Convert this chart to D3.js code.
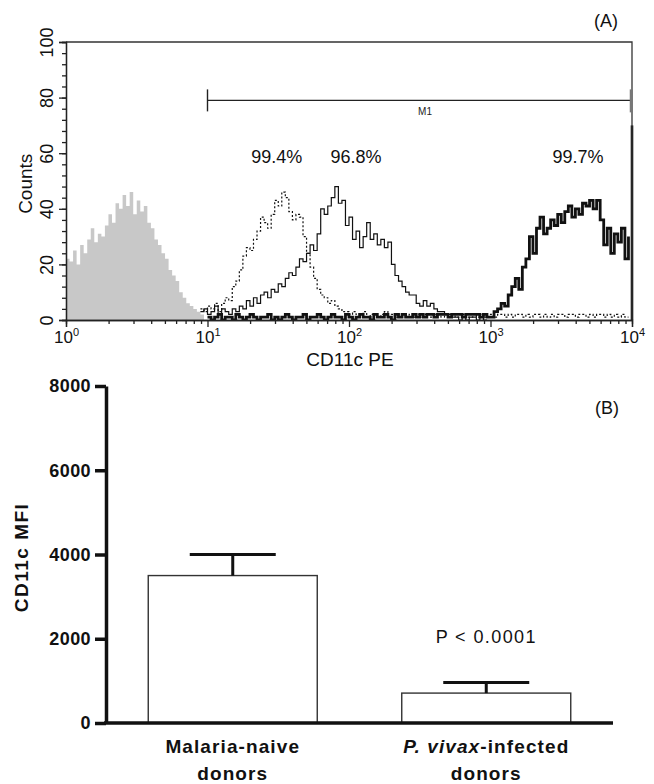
<!DOCTYPE html>
<html>
<head>
<meta charset="utf-8">
<script src="https://cdn.jsdelivr.net/npm/d3@7"></script>
<style>
  html, body { margin: 0; padding: 0; background: #fff; }
  svg { display: block; font-family: "Liberation Sans", Arial, sans-serif; }
</style>
</head>
<body>
<div id="chart"></div>
<script>
// ---------- Panel A: CD11c PE histograms ----------
// counts per channel, channels are LOG_STEP wide on the log10 axis
const LOG_STEP = 0.025;

// isotype control (grey fill), starts at 10^0
const isoStart = 0.0;
const isoCounts = [22, 21, 25, 20, 27, 24, 29, 33, 28, 31, 30, 34, 38, 35, 42, 40, 45, 41, 46, 38,
  43, 39, 41, 35, 33, 29, 27, 24, 22, 18, 16, 14, 10, 8, 6, 5, 4, 3, 2, 0];

// dotted histogram (99.4%)
const dotStart = 0.95;
const dotCounts = [4, 3, 5, 4, 6, 3, 6, 8, 7, 12, 14, 18, 23, 26, 25, 29, 32, 37, 35, 33,
  38, 43, 41, 46, 44, 39, 36, 38, 37, 30, 24, 19, 15, 11, 9, 8, 6, 7, 5, 4,
  3, 3, 2,
  3, 2, 2, 3, 1, 2, 2, 1, 2, 3, 1, 2, 1, 2, 2, 1, 2, 1, 2,
  1, 2, 1, 1, 2, 1, 2, 1, 1, 2, 1, 1, 2, 1, 1, 2, 1, 2, 1, 1,
  2, 1, 2, 2, 1, 2, 1, 2, 2, 1, 2, 1, 2, 2, 1, 2, 1, 2, 1, 2,
  2, 1, 2, 2, 1, 2, 2, 1, 2, 1, 2, 2, 1, 2, 1, 2, 1, 2, 1, 1];

// thin solid histogram (96.8%)
const thinStart = 0.95;
const thinCounts = [3, 4, 2, 3, 5, 2, 4, 3, 2, 4, 3, 5, 4, 7, 5, 8, 6, 9, 10, 8,
  11, 10, 13, 12, 15, 17, 16, 19, 22, 21, 24, 27, 25, 31, 40, 38, 41, 44, 48, 42,
  43, 34, 37, 29, 32, 26, 30, 35, 29, 31, 27, 29, 26, 28, 20, 16, 14, 12, 10, 9,
  9, 6, 5, 7, 5, 6, 4, 3, 3, 2, 2, 1, 1,
  0, 1, 0, 1, 1, 0, 1, 0, 0];

// thick solid histogram (99.7%)
const thickStart = 1.0;
const thickCounts = [1, 0, 1, 2, 0, 1, 1, 0, 2, 1, 0, 1, 2, 1, 0, 1, 1, 2, 0, 1,
  0, 1, 2, 1, 0, 1, 1, 2, 0, 1, 1, 2, 1, 0, 1, 2, 1, 1, 0, 2,
  1, 0, 1, 2, 1, 1, 0, 2, 1, 1, 2, 1, 0, 2, 1, 2, 1, 1, 2, 1,
  2, 1, 2, 2, 1, 2, 2, 2, 1, 2, 2, 2, 1, 2, 2, 2, 2, 1, 2, 1,
  1, 3, 4, 6, 5, 9, 12, 15, 11, 19, 22, 30, 24, 33, 37, 31, 33, 36, 34, 38,
  35, 39, 41, 37, 40, 38, 42, 41, 43, 40, 43, 36, 27, 33, 24, 31, 28, 33, 22, 30];
const thickPileup = 70;   // last channel at 10^4

const histTicks = [0, 20, 40, 60, 80, 100];
const decades = [1, 10, 100, 1000, 10000];
const minorMult = [2, 3, 4, 5, 6, 7, 8, 9];

const m1Range = [10, 10000];
const m1Level = 79;

const pctLabels = [
  { text: "99.4%", at: 30.9 },
  { text: "96.8%", at: 112 },
  { text: "99.7%", at: 4150 }
];

// ---------- Panel B: CD11c MFI bars ----------
const groups = ["Malaria-naive donors", "P. vivax-infected donors"];
const mfiMean = [3500, 710];
const mfiSem = [500, 250];
const mfiTicks = [0, 2000, 4000, 6000, 8000];

const W = 654, H = 784;
const svg = d3.select("#chart").append("svg")
  .attr("width", W).attr("height", H);

// ===== Panel A =====
const xA = d3.scaleLog().domain([1, 10000]).range([66, 632]);
const yA = d3.scaleLinear().domain([0, 100]).range([320, 42]);

const gA = svg.append("g");

svg.append("clipPath").attr("id", "clipA")
  .append("rect")
  .attr("x", xA.range()[0]).attr("y", yA(100))
  .attr("width", xA.range()[1] - xA.range()[0]).attr("height", yA(0) - yA(100));

function toPoints(start, counts) {
  return counts.map((c, i) => [Math.pow(10, start + i * LOG_STEP), c]);
}

const area = d3.area()
  .x(d => xA(d[0])).y0(yA(0)).y1(d => yA(d[1]))
  .curve(d3.curveStepAfter);
const line = d3.line()
  .x(d => xA(d[0])).y(d => yA(d[1]))
  .curve(d3.curveStepAfter);

const plotA = gA.append("g").attr("clip-path", "url(#clipA)");

plotA.append("path")
  .datum(toPoints(isoStart, isoCounts))
  .attr("d", area)
  .attr("fill", "#c8c8c8");

plotA.append("path")
  .datum(toPoints(dotStart, dotCounts))
  .attr("d", line)
  .attr("fill", "none").attr("stroke", "#111")
  .attr("stroke-width", 1.2).attr("stroke-dasharray", "2,2");

plotA.append("path")
  .datum(toPoints(thinStart, thinCounts))
  .attr("d", line)
  .attr("fill", "none").attr("stroke", "#111").attr("stroke-width", 1.2);

plotA.append("path")
  .datum(toPoints(thickStart, thickCounts))
  .attr("d", line)
  .attr("fill", "none").attr("stroke", "#111").attr("stroke-width", 2.8);

// pile-up in the last channel
gA.append("line")
  .attr("x1", xA(10000)).attr("x2", xA(10000))
  .attr("y1", yA(0)).attr("y2", yA(thickPileup))
  .attr("stroke", "#111").attr("stroke-width", 2.6);

// frame (top + right)
gA.append("path")
  .attr("d", `M${xA(1)},${yA(100)}H${xA(10000)}V${yA(0)}`)
  .attr("fill", "none").attr("stroke", "#333").attr("stroke-width", 1.3);

// y axis
gA.append("g").attr("transform", `translate(${xA(1)},0)`)
  .call(d3.axisLeft(yA).tickValues(d3.range(0, 101, 4)).tickSize(4).tickFormat(""));
const yMajor = gA.append("g").attr("transform", `translate(${xA(1)},0)`)
  .call(d3.axisLeft(yA).tickValues(histTicks).tickSize(7));
yMajor.selectAll("text")
  .attr("transform", "rotate(-90)")
  .attr("x", 0).attr("y", -13).attr("dy", 0)
  .attr("text-anchor", "middle")
  .attr("font-size", 18).attr("fill", "#111");

// x axis
const minorVals = [];
decades.slice(0, 4).forEach(d => minorMult.forEach(m => minorVals.push(d * m)));
gA.append("g").attr("transform", `translate(0,${yA(0)})`)
  .call(d3.axisBottom(xA).tickValues(minorVals).tickSize(4).tickFormat(""));
const xMajor = gA.append("g").attr("transform", `translate(0,${yA(0)})`)
  .call(d3.axisBottom(xA).tickValues(decades).tickSize(7).tickFormat(""));
xMajor.selectAll(".tick").append("text")
  .attr("y", 23).attr("fill", "#111").attr("font-size", 17)
  .attr("text-anchor", "middle")
  .each(function(d, i) {
    const t = d3.select(this);
    t.append("tspan").text("10");
    t.append("tspan").attr("dy", -7).attr("font-size", 11).text(i);
  });

gA.selectAll(".domain, .tick line")
  .attr("stroke", "#222").attr("stroke-width", 1.3);

// axis titles
gA.append("text")
  .attr("transform", `translate(32,${yA(49)}) rotate(-90)`)
  .attr("text-anchor", "middle").attr("font-size", 19).attr("fill", "#111")
  .text("Counts");
gA.append("text")
  .attr("x", 350).attr("y", 366)
  .attr("text-anchor", "middle").attr("font-size", 19).attr("fill", "#111")
  .text("CD11c PE");

// M1 marker
gA.append("line")
  .attr("x1", xA(m1Range[0])).attr("x2", xA(m1Range[1]))
  .attr("y1", yA(m1Level)).attr("y2", yA(m1Level))
  .attr("stroke", "#222").attr("stroke-width", 1.4);
gA.append("line")
  .attr("x1", xA(m1Range[0])).attr("x2", xA(m1Range[0]))
  .attr("y1", yA(m1Level) - 11).attr("y2", yA(m1Level) + 11)
  .attr("stroke", "#222").attr("stroke-width", 1.4);
gA.append("line")
  .attr("x1", xA(m1Range[1]) - 1).attr("x2", xA(m1Range[1]) - 1)
  .attr("y1", yA(m1Level) - 11).attr("y2", yA(m1Level) + 12)
  .attr("stroke", "#777").attr("stroke-width", 2.5);
gA.append("text")
  .attr("x", 425).attr("y", yA(m1Level) + 15)
  .attr("text-anchor", "middle").attr("font-size", 10).attr("fill", "#222")
  .text("M1");

// percentages
gA.selectAll("text.pct")
  .data(pctLabels)
  .enter().append("text")
  .attr("class", "pct")
  .attr("x", d => xA(d.at)).attr("y", yA(56.5))
  .attr("text-anchor", "middle").attr("font-size", 18).attr("fill", "#111")
  .text(d => d.text);

gA.append("text")
  .attr("x", 606).attr("y", 27)
  .attr("text-anchor", "middle").attr("font-size", 18).attr("fill", "#111")
  .text("(A)");

// ===== Panel B =====
const xB = d3.scaleBand().domain(groups).range([106, 613])
  .paddingInner(1 / 3).paddingOuter(1 / 6);
const yB = d3.scaleLinear().domain([0, 8000]).range([723, 386]);

const gB = svg.append("g");

gB.selectAll("rect.bar")
  .data(groups)
  .enter().append("rect")
  .attr("class", "bar")
  .attr("x", d => xB(d)).attr("width", xB.bandwidth())
  .attr("y", (d, i) => yB(mfiMean[i]))
  .attr("height", (d, i) => yB(0) - yB(mfiMean[i]))
  .attr("fill", "#fff").attr("stroke", "#333").attr("stroke-width", 1.4);

// error bars (upper only)
const capW = 86;
groups.forEach((g, i) => {
  const cx = xB(g) + xB.bandwidth() / 2;
  gB.append("line")
    .attr("x1", cx).attr("x2", cx)
    .attr("y1", yB(mfiMean[i])).attr("y2", yB(mfiMean[i] + mfiSem[i]))
    .attr("stroke", "#111").attr("stroke-width", 3);
  gB.append("line")
    .attr("x1", cx - capW / 2).attr("x2", cx + capW / 2)
    .attr("y1", yB(mfiMean[i] + mfiSem[i])).attr("y2", yB(mfiMean[i] + mfiSem[i]))
    .attr("stroke", "#111").attr("stroke-width", 3);
});

// y axis
const yAxB = gB.append("g").attr("transform", "translate(106,0)")
  .call(d3.axisLeft(yB).tickValues(mfiTicks).tickSize(11).tickSizeOuter(0)
    .tickPadding(4).tickFormat(d3.format("d")));
yAxB.selectAll(".domain, .tick line").attr("stroke", "#111").attr("stroke-width", 3.5);
yAxB.selectAll("text")
  .attr("font-size", 18).attr("font-weight", "bold")
  .attr("letter-spacing", 0.4).attr("fill", "#111");

// x axis line
gB.append("line")
  .attr("x1", 104).attr("x2", 613)
  .attr("y1", yB(0)).attr("y2", yB(0))
  .attr("stroke", "#111").attr("stroke-width", 3.5);

// category labels
const catA = gB.append("text")
  .attr("x", xB(groups[0]) + xB.bandwidth() / 2).attr("y", 753)
  .attr("text-anchor", "middle").attr("font-size", 19).attr("font-weight", "bold")
  .attr("letter-spacing", 1.1).attr("fill", "#111");
catA.append("tspan").text("Malaria-naive");
catA.append("tspan").attr("x", xB(groups[0]) + xB.bandwidth() / 2).attr("dy", 27).text("donors");

const catB = gB.append("text")
  .attr("x", xB(groups[1]) + xB.bandwidth() / 2).attr("y", 753)
  .attr("text-anchor", "middle").attr("font-size", 19).attr("font-weight", "bold")
  .attr("letter-spacing", 1.1).attr("fill", "#111");
catB.append("tspan").attr("font-style", "italic").text("P. vivax");
catB.append("tspan").text("-infected");
catB.append("tspan").attr("x", xB(groups[1]) + xB.bandwidth() / 2).attr("dy", 27).text("donors");

// y title
gB.append("text")
  .attr("transform", `translate(28,${yB(3930)}) rotate(-90)`)
  .attr("text-anchor", "middle").attr("font-size", 19).attr("font-weight", "bold")
  .attr("letter-spacing", 1.5).attr("fill", "#111")
  .text("CD11c MFI");

gB.append("text")
  .attr("x", xB(groups[1]) + xB.bandwidth() / 2).attr("y", yB(1900))
  .attr("text-anchor", "middle").attr("font-size", 18)
  .attr("letter-spacing", 1.4).attr("fill", "#111")
  .text("P < 0.0001");

gB.append("text")
  .attr("x", 607).attr("y", 414)
  .attr("text-anchor", "middle").attr("font-size", 18).attr("fill", "#111")
  .text("(B)");
</script>
</body>
</html>
